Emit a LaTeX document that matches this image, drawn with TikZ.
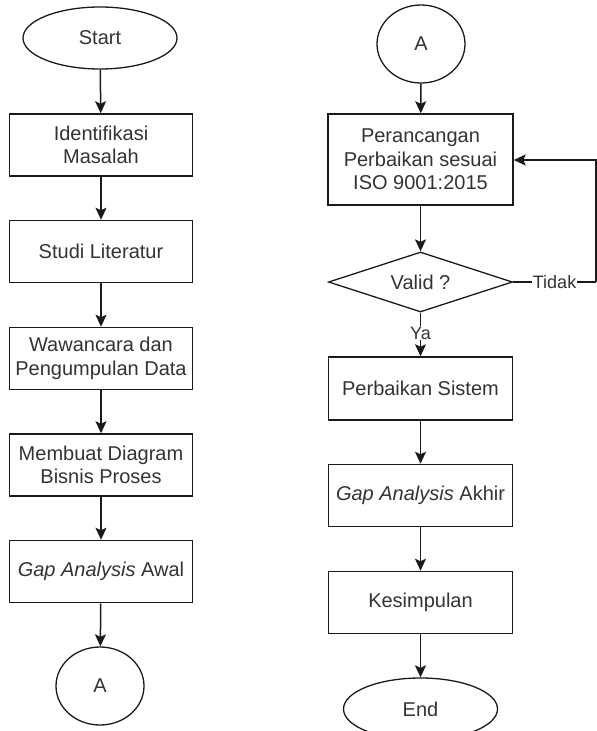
\documentclass[tikz,border=0pt]{standalone}
\usepackage{fontspec}
\setmainfont{Liberation Sans}
\usetikzlibrary{shapes.geometric,arrows.meta}
\definecolor{txt}{HTML}{333333}
\definecolor{ln}{HTML}{1A1A1A}
\begin{document}
\begin{tikzpicture}[x=1pt,y=-1pt,
  every node/.style={font=\fontsize{20}{23.5}\selectfont, text=txt},
  procbox/.style={draw=ln, line width=1.5pt, rectangle, minimum width=183pt, minimum height=62pt, inner sep=0pt, align=center},
  termel/.style={draw=ln, line width=1.3pt, ellipse, minimum width=154pt, minimum height=62pt, inner sep=0pt},
  conn/.style={draw=ln, line width=1.3pt, ellipse, minimum width=88pt, minimum height=78pt, inner sep=0pt},
  decis/.style={draw=ln, line width=1.3pt, diamond, aspect=3, minimum width=184pt, minimum height=60pt, inner sep=0pt},
  flow/.style={draw=ln, line width=1.5pt, -{Stealth[length=12pt,width=11pt,inset=2.5pt]}},
  plain/.style={draw=ln, line width=1.3pt},
  lbl/.style={fill=white, inner sep=1pt, font=\fontsize{18}{20}\selectfont}
]
\useasboundingbox (0,0) rectangle (597,731);
\clip (0,0) rectangle (597,731);

% left column
\node[termel] (start) at (100,38) {Start};
\node[procbox] (b1) at (101,145) {Identifikasi\\Masalah};
\node[procbox] (b2) at (101,251.5) {Studi Literatur};
\node[procbox] (b3) at (101,358.5) {Wawancara dan\\Pengumpulan Data};
\node[procbox] (b4) at (101,465) {Membuat Diagram\\Bisnis Proses};
\node[procbox] (b5) at (101,571.5) {\textit{Gap Analysis} Awal};
\node[conn] (a1) at (100,686) {A};

% right column
\node[conn] (a2) at (421,44) {A};
\node[procbox, minimum width=185pt, minimum height=91pt] (r1) at (420.5,159.5) {Perancangan\\Perbaikan sesuai\\ISO 9001:2015};
\node[decis] (dia) at (420.5,282) {Valid ?};
\node[procbox, minimum width=184pt, minimum height=63pt] (r2) at (420.5,388.5) {Perbaikan Sistem};
\node[procbox, minimum width=184pt] (r3) at (420.5,495.5) {\textit{Gap Analysis} Akhir};
\node[procbox, minimum width=184pt] (r4) at (420.5,602.5) {Kesimpulan};
\node[termel] (end) at (420.5,709) {End};

\coordinate (loopA) at (596,282);
\coordinate (loopB) at (596,160);

% connectors left
\draw[flow] (start) -- (b1);
\draw[flow] (b1) -- (b2);
\draw[flow] (b2) -- (b3);
\draw[flow] (b3) -- (b4);
\draw[flow] (b4) -- (b5);
\draw[flow] (b5) -- (a1);

% connectors right
\draw[flow] (a2) -- (r1);
\draw[flow] (r1) -- (dia);
\draw[flow] (dia) -- node[lbl, pos=0.47] (ya) {Ya} (r2);
\draw[flow] (r2) -- (r3);
\draw[flow] (r3) -- (r4);
\draw[flow] (r4) -- (end);
\draw[plain] (dia.east) -- node[lbl, pos=0.5] (tidak) {Tidak} (loopA);
\draw[flow] (loopA) -- (loopB) -- (r1.east |- loopB);
\end{tikzpicture}
\end{document}
